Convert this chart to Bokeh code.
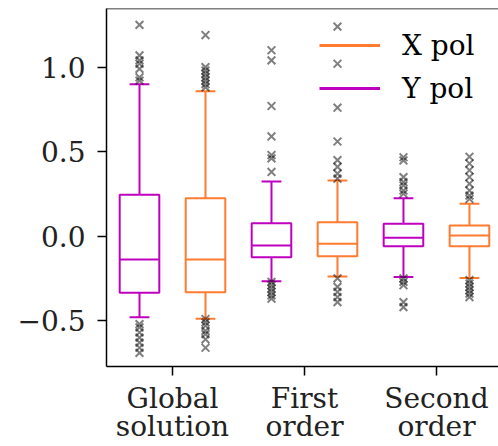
from bokeh.plotting import figure
from bokeh.models import (ColumnDataSource, Range1d, FixedTicker, Span, Legend, LegendItem, LinearAxis)
from bokeh.embed import file_html
from bokeh.resources import INLINE

# ---- data ----
groups = ["Global\nsolution", "First\norder", "Second\norder"]
series = ["Y pol", "X pol"]

y_q1 = [-0.335, -0.124, -0.059]
y_med = [-0.138, -0.055, -0.010]
y_q3 = [0.245, 0.077, 0.073]
y_lo = [-0.479, -0.266, -0.242]
y_hi = [0.899, 0.324, 0.225]

x_q1 = [-0.331, -0.118, -0.059]
x_med = [-0.138, -0.045, 0.004]
x_q3 = [0.225, 0.083, 0.063]
x_lo = [-0.489, -0.238, -0.248]
x_hi = [0.858, 0.330, 0.192]

y_out = [
    [1.25, 1.07, 1.04, 1.02, 0.99, 0.94, 0.92, -0.52, -0.54, -0.57, -0.60, -0.63, -0.66, -0.69],
    [1.10, 1.04, 0.77, 0.59, 0.48, 0.46, 0.38, -0.27, -0.29, -0.31, -0.33, -0.35, -0.37],
    [0.467, 0.448, 0.349, 0.32, 0.30, 0.27, 0.251, -0.25, -0.27, -0.29, -0.39, -0.42],
]
x_out = [
    [1.19, 1.00, 0.98, 0.96, 0.94, 0.92, 0.90, 0.88, -0.49, -0.51, -0.53, -0.56, -0.58, -0.61, -0.66],
    [1.24, 1.02, 0.76, 0.56, 0.45, 0.41, 0.37, 0.34, -0.25, -0.30, -0.33, -0.36, -0.39],
    [0.47, 0.43, 0.39, 0.35, 0.31, 0.27, 0.24, 0.22, -0.26, -0.28, -0.30, -0.32, -0.34, -0.36],
]

y_ticks = [-0.5, 0.0, 0.5, 1.0]
y_tick_labels = ["\u22120.5", "0.0", "0.5", "1.0"]

# ---- styles ----
PURPLE = "#bf00bf"
ORANGE = "#ff7b30"
FONT = "DejaVu Serif"
FS = "28px"
OFFSET = 0.25
BOXW = 0.30
CAPW = 0.15
Y0, Y1 = -0.771, 1.347

p = figure(width=498, height=446, output_backend="svg", toolbar_location=None,
           x_range=Range1d(0.5, 3.47), y_range=Range1d(Y0, Y1),
           min_border_left=106, min_border_right=0, min_border_top=8, min_border_bottom=80)
p.outline_line_color = None
p.xgrid.visible = False
p.ygrid.visible = False
p.background_fill_color = "white"
p.border_fill_color = "white"

def draw(q1, med, q3, lo, hi, outs, off, color):
    xs = [i + 1 + off for i in range(len(groups))]
    src = ColumnDataSource(dict(x=xs, q1=q1, med=med, q3=q3, lo=lo, hi=hi,
                                x0=[x - BOXW / 2 for x in xs], x1=[x + BOXW / 2 for x in xs],
                                c0=[x - CAPW / 2 for x in xs], c1=[x + CAPW / 2 for x in xs]))
    p.segment(x0="x", y0="q3", x1="x", y1="hi", source=src, line_color=color, line_width=2)
    p.segment(x0="x", y0="q1", x1="x", y1="lo", source=src, line_color=color, line_width=2)
    p.segment(x0="c0", y0="hi", x1="c1", y1="hi", source=src, line_color=color, line_width=2)
    p.segment(x0="c0", y0="lo", x1="c1", y1="lo", source=src, line_color=color, line_width=2)
    p.quad(left="x0", right="x1", bottom="q1", top="q3", source=src,
           fill_color=None, line_color=color, line_width=2)
    p.segment(x0="x0", y0="med", x1="x1", y1="med", source=src, line_color=color, line_width=2)
    ox, oy = [], []
    for i, vals in enumerate(outs):
        for v in vals:
            ox.append(i + 1 + off)
            oy.append(v)
    p.scatter(ox, oy, marker="x", size=11, line_color="black", line_alpha=0.5, line_width=2)

draw(y_q1, y_med, y_q3, y_lo, y_hi, y_out, -OFFSET, PURPLE)
draw(x_q1, x_med, x_q3, x_lo, x_hi, x_out, OFFSET, ORANGE)

# legend proxies (placed outside the visible range)
lx = p.line([-10, -9], [Y0 - 5, Y0 - 5], line_color=ORANGE, line_width=3)
ly = p.line([-10, -9], [Y0 - 5, Y0 - 5], line_color=PURPLE, line_width=3)
legend = Legend(items=[LegendItem(label="X pol", renderers=[lx]),
                       LegendItem(label="Y pol", renderers=[ly])],
                location=(213, 261), orientation="vertical")
legend.glyph_width = 61
legend.glyph_height = 34
legend.label_height = 34
legend.spacing = 9
legend.padding = 0
legend.margin = 0
legend.label_standoff = 22
legend.border_line_color = None
legend.background_fill_alpha = 0
legend.label_text_font = FONT
legend.label_text_font_size = FS
legend.label_text_color = "black"
p.add_layout(legend)

top = Span(location=Y1, dimension="width", line_color="black", line_width=1.5)
p.add_layout(top)

for ax in (p.xaxis[0], p.yaxis[0]):
    ax.axis_line_color = "black"
    ax.axis_line_width = 1.5
    ax.major_tick_line_color = "black"
    ax.major_tick_line_width = 1.5
    ax.major_tick_out = 9
    ax.major_tick_in = 0
    ax.minor_tick_line_color = None
    ax.major_label_text_font = FONT
    ax.major_label_text_font_size = FS
    ax.major_label_text_color = "#222222"

first_lines = [g.split("\n")[0] for g in groups]
second_lines = [g.split("\n")[1] for g in groups]

p.yaxis.major_label_standoff = 12
p.xaxis.major_label_standoff = 6
p.xaxis.ticker = FixedTicker(ticks=[1, 2, 3])
p.xaxis.major_label_overrides = {i + 1: s for i, s in enumerate(first_lines)}
p.yaxis.ticker = FixedTicker(ticks=y_ticks)
p.yaxis.major_label_overrides = {t: l for t, l in zip(y_ticks, y_tick_labels)}

ax2 = LinearAxis(ticker=FixedTicker(ticks=[1, 2, 3]),
                 major_label_overrides={i + 1: s for i, s in enumerate(second_lines)})
ax2.axis_line_color = None
ax2.major_tick_line_color = None
ax2.minor_tick_line_color = None
ax2.major_tick_out = 0
ax2.major_tick_in = 0
ax2.major_label_standoff = -8
ax2.major_label_text_font = FONT
ax2.major_label_text_font_size = FS
ax2.major_label_text_color = "#222222"
p.add_layout(ax2, "below")

open("out.html", "w").write(file_html(p, INLINE))
